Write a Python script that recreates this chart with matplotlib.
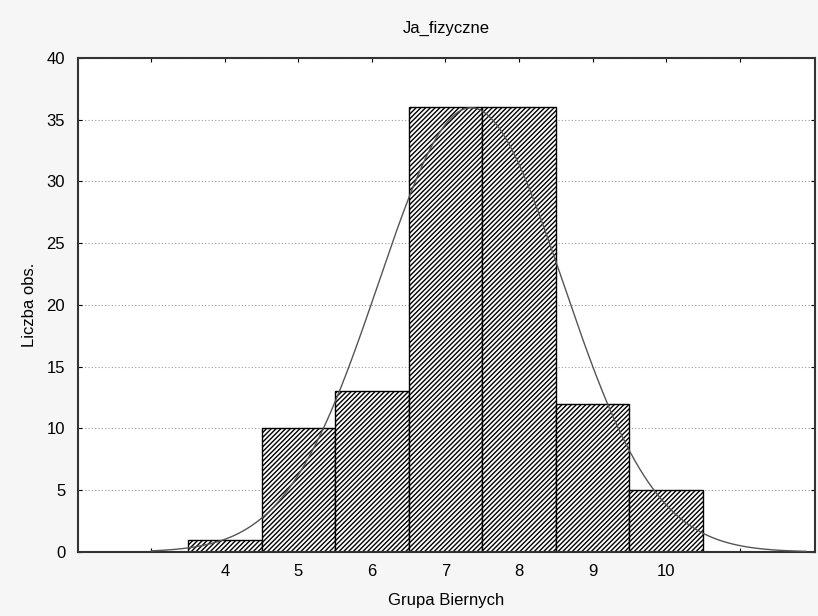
import numpy as np
import matplotlib
matplotlib.use("Agg")
import matplotlib.pyplot as plt

# histogram of "Ja_fizyczne" for Grupa Biernych
bins = [4, 5, 6, 7, 8, 9, 10]
counts = [1, 10, 13, 36, 36, 12, 5]
tick_labels = ["4", "5", "6", "7", "8", "9", "10"]

plt.rcParams['font.family'] = ['Liberation Sans', 'DejaVu Sans']
plt.rcParams['hatch.linewidth'] = 1.0
plt.rcParams['hatch.color'] = '#333333'

fig = plt.figure(figsize=(8.18, 6.16), dpi=100, facecolor="#f6f6f6")
ax = fig.add_axes([0.095, 0.104, 0.901, 0.802])
ax.set_facecolor("white")

ax.bar(bins, counts, width=1.0, facecolor="white", edgecolor="black",
       linewidth=1.0, hatch="///////", zorder=2)

# normal curve fitted to the binned data
x = np.array(bins, dtype=float)
n = np.array(counts, dtype=float)
total = n.sum()
mean = (x * n).sum() / total
sd = np.sqrt((n * (x - mean) ** 2).sum() / total)
xs = np.linspace(3, 11.9, 300)
ys = total / (sd * np.sqrt(2 * np.pi)) * np.exp(-0.5 * ((xs - mean) / sd) ** 2)
ax.plot(xs, ys, color="#555555", linewidth=1.0, zorder=3)

ax.set_xlim(2, 12.02)
ax.set_ylim(0, 40)
ax.set_yticks(range(0, 41, 5))
ax.set_xticks(range(3, 12))
ax.set_xticklabels([""] + tick_labels + [""])
ax.yaxis.grid(True, linestyle=(0, (1, 2)), color="#999999", linewidth=0.8, zorder=0)
ax.tick_params(axis="both", direction="in", length=3, labelsize=12,
               top=True, right=True, pad=9)
for s in ax.spines.values():
    s.set_linewidth(1.5)
    s.set_color("#333333")

ax.set_title("Ja_fizyczne", fontsize=12, pad=18)
ax.set_xlabel("Grupa Biernych", fontsize=12, labelpad=10)
ax.set_ylabel("Liczba obs.", fontsize=12, labelpad=7)

fig.savefig("out.png", dpi=100, facecolor=fig.get_facecolor())
